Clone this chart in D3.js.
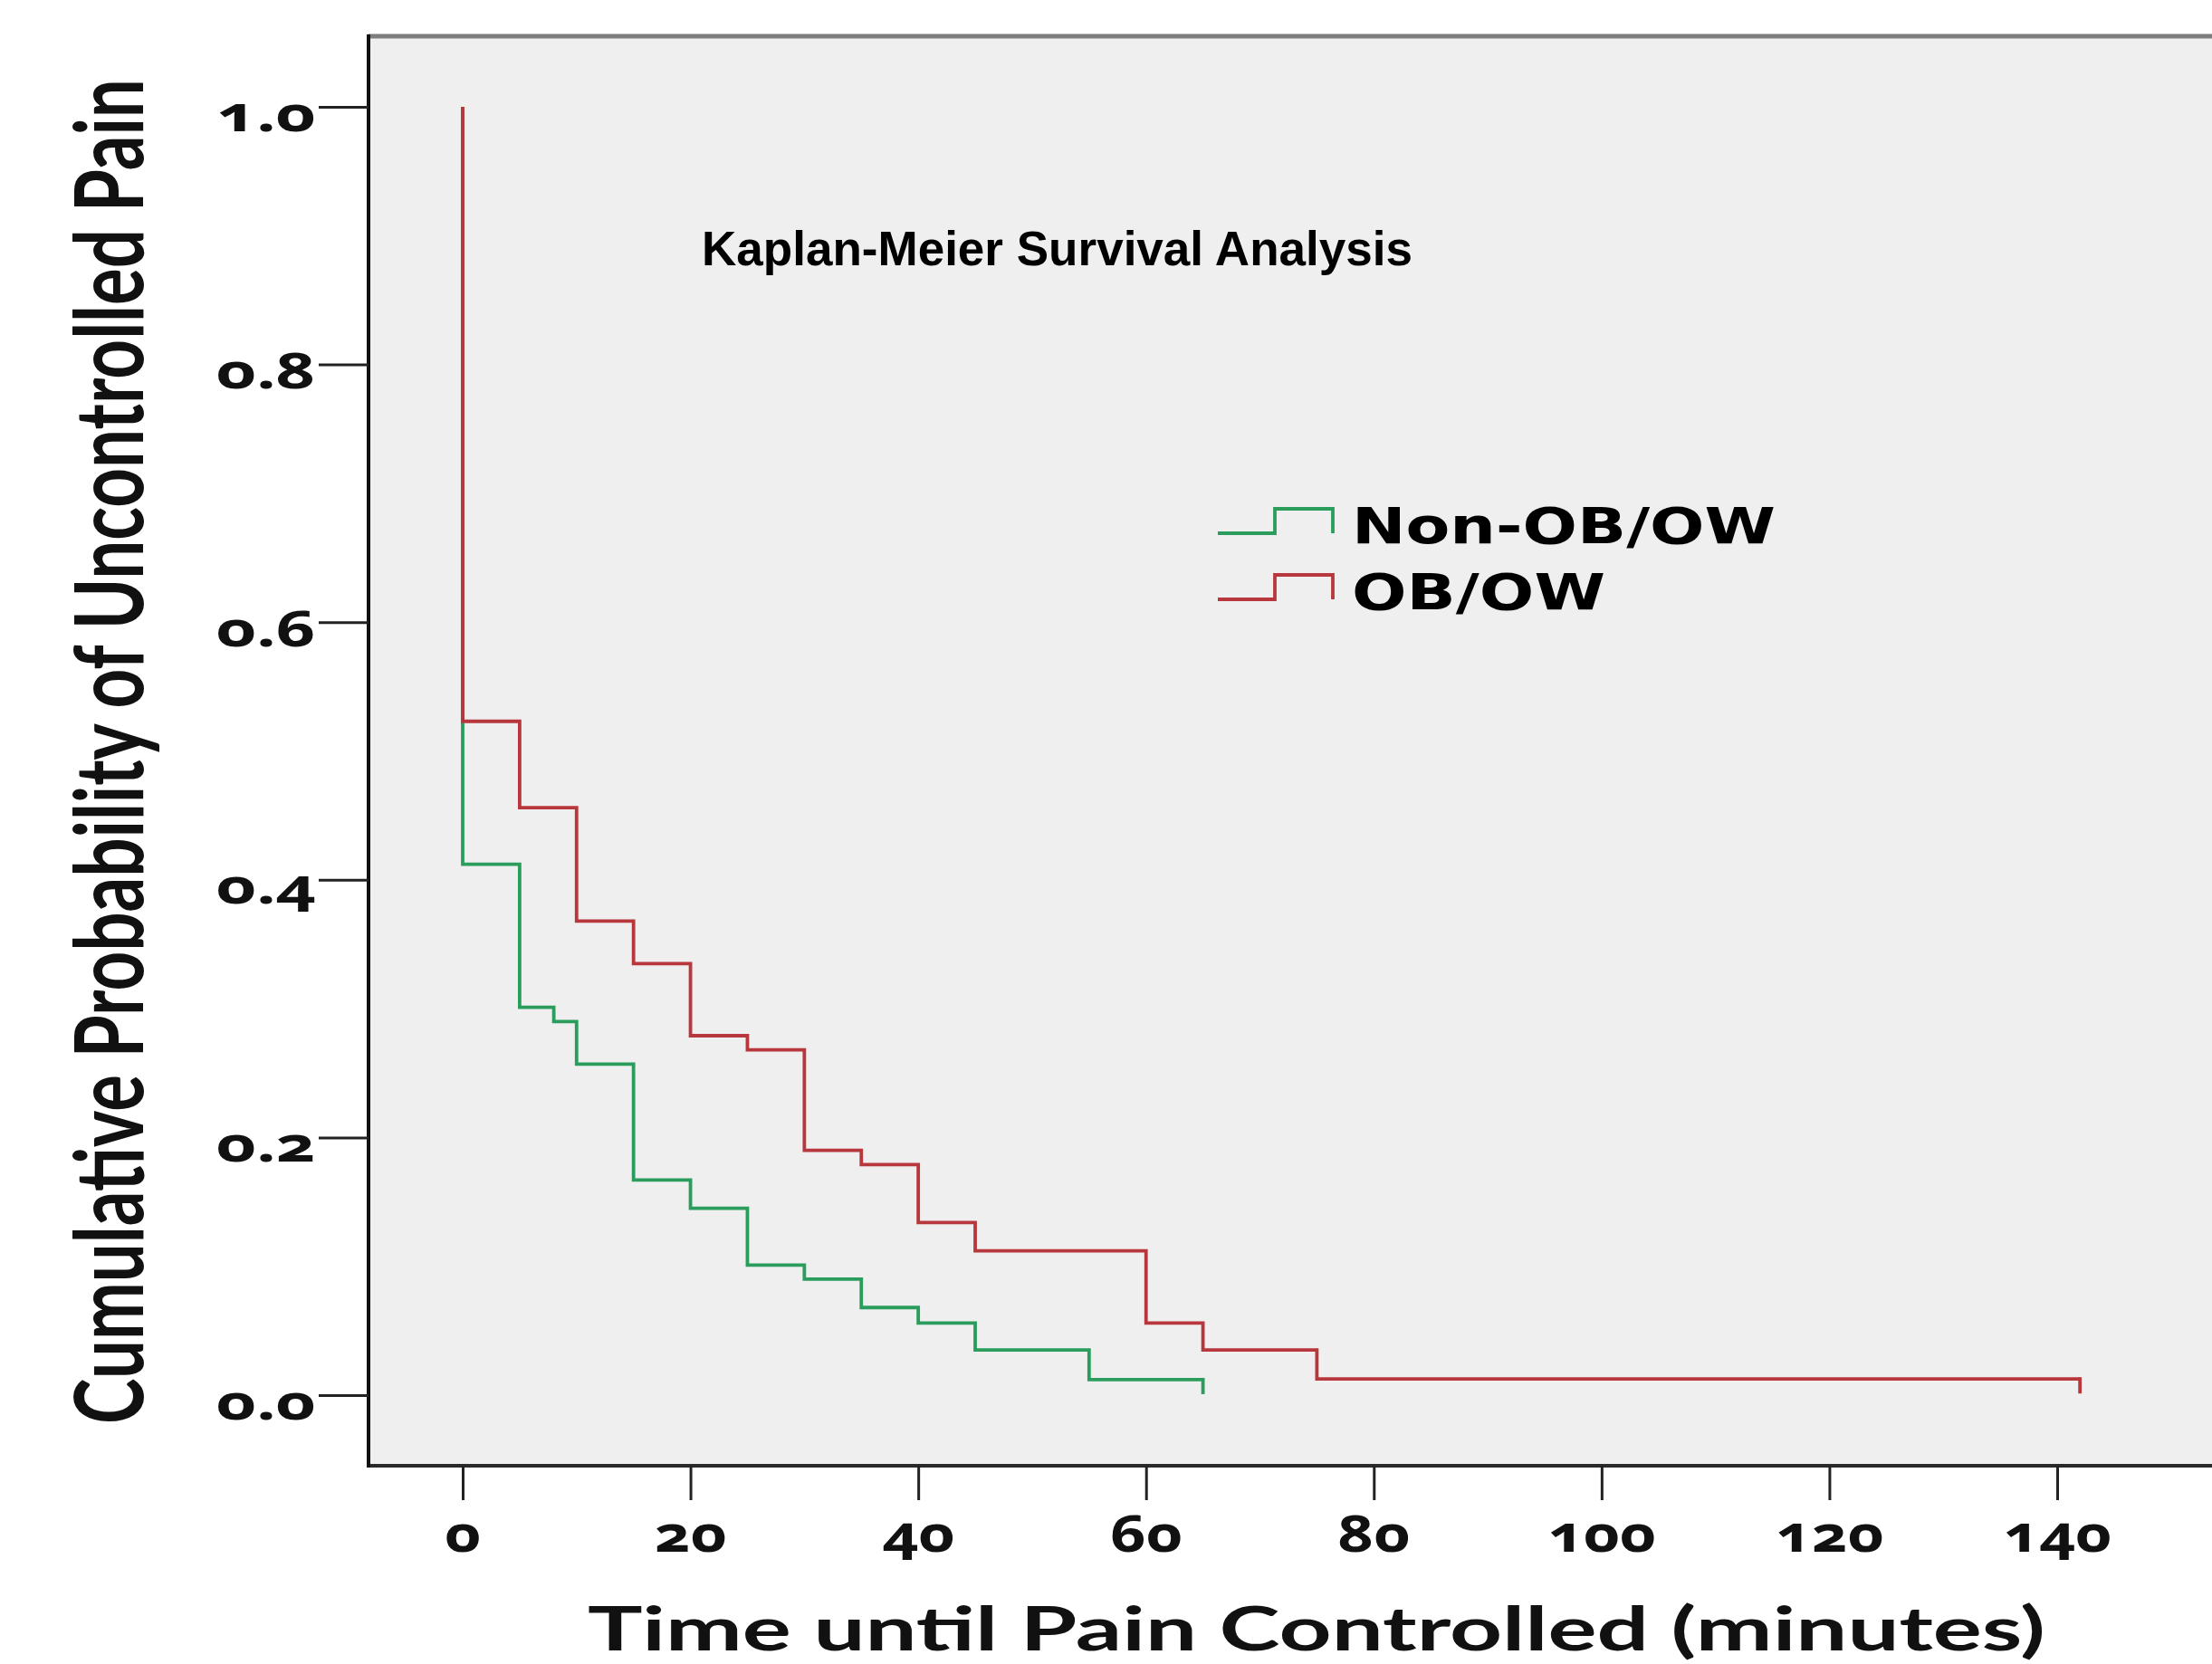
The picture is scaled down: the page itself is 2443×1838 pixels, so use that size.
<!DOCTYPE html>
<html>
<head>
<meta charset="utf-8">
<script src="https://cdn.jsdelivr.net/npm/d3@7"></script>
<style>
  body { margin: 0; background: #fff; }
  svg { display: block; }
  .tick line { stroke: #222; stroke-width: 3; }
  .tick text { font-family: "Noto Sans", sans-serif; font-weight: bold; fill: #111;
               font-variant-numeric: oldstyle-nums; font-feature-settings: "onum"; }
</style>
</head>
<body>
<svg width="2443" height="1838"></svg>
<script>
var svg = d3.select('svg');

var width = +svg.attr("width"),
    height = +svg.attr("height");

// ---- data ----
var groupNames = ['Non-OB/OW', 'OB/OW'];
var groupColors = ['#2a9d5c', '#b8373c'];

// step points (time, survival) - step-after
var nonObTimes    = [0, 0, 5, 8, 10, 15, 20, 25, 30, 35, 40, 45, 55, 65];
var nonObSurvival = [1.0, 0.412, 0.301, 0.290, 0.257, 0.167, 0.145, 0.101, 0.090, 0.068, 0.056, 0.035, 0.012, 0.012];
var obTimes       = [0, 0, 5, 10, 15, 20, 25, 30, 35, 40, 45, 60, 65, 75, 142];
var obSurvival    = [1.0, 0.523, 0.456, 0.368, 0.335, 0.279, 0.268, 0.190, 0.179, 0.134, 0.112, 0.056, 0.035, 0.0125, 0.0125];

// censored observations (last point of each curve)
var censorTimes    = [65, 142];
var censorSurvival = [0.012, 0.0125];

var xTicks = [0, 20, 40, 60, 80, 100, 120, 140];
var yTicks = [0, 0.2, 0.4, 0.6, 0.8, 1.0];

// ---- layout ----
var plotLeft = 407, plotTop = 40, plotBottom = 1619;

var xScale = d3.scaleLinear().domain([0, 140]).range([511, 2272]);
var yScale = d3.scaleLinear().domain([0, 1]).range([1541, 118]);

// plot background + frame
svg.append('rect')
    .attr('x', plotLeft).attr('y', plotTop)
    .attr('width', width - plotLeft + 10).attr('height', plotBottom - plotTop)
    .attr('fill', '#efefef');

svg.append('line')   // top
    .attr('x1', plotLeft).attr('x2', width + 5)
    .attr('y1', plotTop).attr('y2', plotTop)
    .attr('stroke', '#7d7d7d').attr('stroke-width', 5);
svg.append('line')   // bottom
    .attr('x1', plotLeft).attr('x2', width + 5)
    .attr('y1', plotBottom).attr('y2', plotBottom)
    .attr('stroke', '#2a2a2a').attr('stroke-width', 4);
svg.append('line')   // left
    .attr('x1', plotLeft).attr('x2', plotLeft)
    .attr('y1', plotTop - 2).attr('y2', plotBottom + 2)
    .attr('stroke', '#111').attr('stroke-width', 4);

// axes
var yAxisG = svg.append('g')
    .attr('transform', 'translate(' + plotLeft + ',0)')
    .call(d3.axisLeft(yScale).tickValues(yTicks).tickSize(55).tickPadding(3).tickFormat(d3.format('.1f')));
yAxisG.select('.domain').remove();
yAxisG.selectAll('text')
    .attr('dy', '0').attr('y', 26)
    .style('font-size', '54px')
    .attr('textLength', 110).attr('lengthAdjust', 'spacingAndGlyphs');

var xAxisG = svg.append('g')
    .attr('transform', 'translate(0,' + plotBottom + ')')
    .call(d3.axisBottom(xScale).tickValues(xTicks).tickSize(38).tickFormat(d3.format('d')));
xAxisG.select('.domain').remove();
xAxisG.selectAll('text')
    .attr('dy', '0').attr('y', 95)
    .style('font-size', '56px')
    .attr('textLength', function(d) { return 40 * String(d).length; })
    .attr('lengthAdjust', 'spacingAndGlyphs');

// axis titles - the original is stretched sideways, so scale the glyphs
function stretchTitle(sel, len, across) {
    var natural = sel.node().getComputedTextLength();
    sel.attr('transform', sel.attr('transform') + ' scale(' + (len / natural) + ',' + across + ')');
}

var yTitle = svg.append('text')
    .attr('transform', 'translate(158,1573) rotate(-90)')
    .style('font-family', 'Lato, sans-serif')
    .style('font-weight', 'bold')
    .style('font-size', '72px')
    .style('fill', '#111')
    .text('Cumulative Probability of Uncontrolled Pain');
stretchTitle(yTitle, 1486, 1.45);

var xTitle = svg.append('text')
    .attr('transform', 'translate(649,1823)')
    .style('font-family', 'Lato, sans-serif')
    .style('font-weight', 'bold')
    .style('font-size', '67px')
    .style('fill', '#111')
    .text('Time until Pain Controlled (minutes)');
stretchTitle(xTitle, 1610, 1);

// chart title
svg.append('text')
    .attr('x', 775).attr('y', 293)
    .attr('textLength', 785).attr('lengthAdjust', 'spacingAndGlyphs')
    .style('font-family', '"Liberation Sans", Arial, sans-serif')
    .style('font-weight', 'bold')
    .style('font-size', '54px')
    .style('fill', '#000')
    .text('Kaplan-Meier Survival Analysis');

// survival curves
var line = d3.line()
    .x(function(d) { return xScale(d.t); })
    .y(function(d) { return yScale(d.s); })
    .curve(d3.curveStepAfter);

var series = [
    d3.zip(nonObTimes, nonObSurvival).map(function(p) { return {t: p[0], s: p[1]}; }),
    d3.zip(obTimes, obSurvival).map(function(p) { return {t: p[0], s: p[1]}; })
];

svg.selectAll('.km')
    .data(series)
    .enter().append('path')
    .attr('class', 'km')
    .attr('d', line)
    .attr('fill', 'none')
    .attr('stroke', function(d, i) { return groupColors[i]; })
    .attr('stroke-width', 3.8)
    .attr('stroke-linejoin', 'miter');

// censor marks
svg.selectAll('.censor')
    .data(censorTimes)
    .enter().append('line')
    .attr('class', 'censor')
    .attr('x1', function(d) { return xScale(d); })
    .attr('x2', function(d) { return xScale(d); })
    .attr('y1', function(d, i) { return yScale(censorSurvival[i]) - 2; })
    .attr('y2', function(d, i) { return yScale(censorSurvival[i]) + 16; })
    .attr('stroke', function(d, i) { return groupColors[i]; })
    .attr('stroke-width', 3.8);

// legend
var legendSymbol = d3.line()([[0, 27], [63, 27], [63, 0], [127, 0], [127, 27]]);
var legend = svg.selectAll('.legend')
    .data(groupNames)
    .enter().append('g')
    .attr('class', 'legend')
    .attr('transform', function(d, i) { return 'translate(1345,' + (562 + i * 73) + ')'; });

legend.append('path')
    .attr('d', legendSymbol)
    .attr('fill', 'none')
    .attr('stroke', function(d, i) { return groupColors[i]; })
    .attr('stroke-width', 3.8);

legend.append('text')
    .attr('x', 148).attr('y', 38)
    .attr('textLength', function(d) { return d.length === 9 ? 468 : 280; })
    .attr('lengthAdjust', 'spacingAndGlyphs')
    .style('font-family', '"DejaVu Sans", Verdana, sans-serif')
    .style('font-weight', 'bold')
    .style('font-size', '55px')
    .style('fill', '#000')
    .text(function(d) { return d; });
</script>
</body>
</html>
